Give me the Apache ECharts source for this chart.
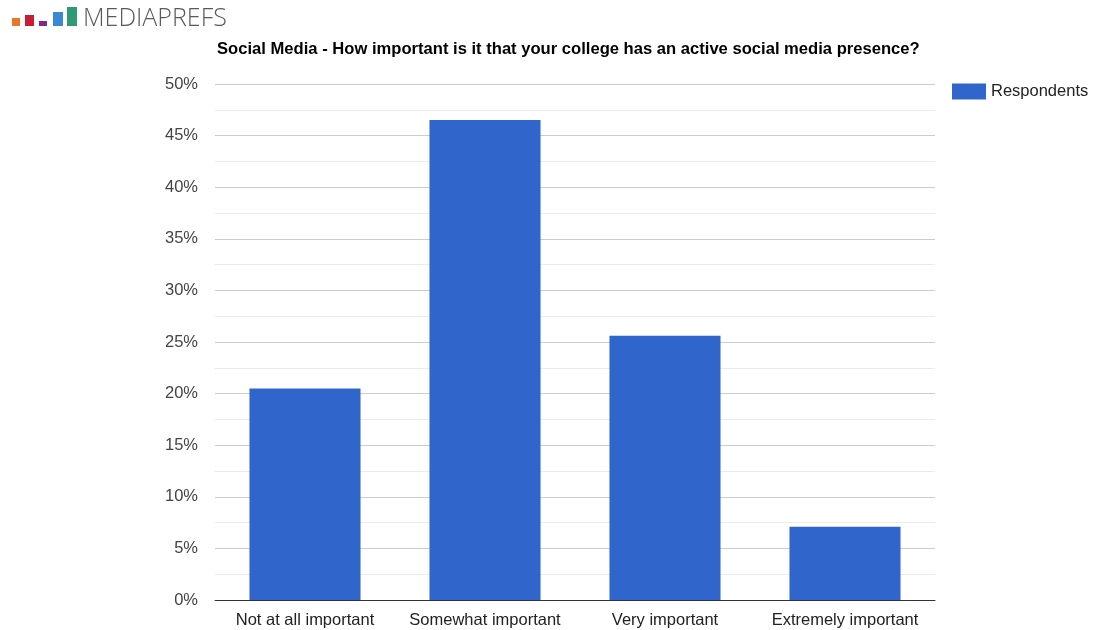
<!DOCTYPE html>
<html>
<head>
<meta charset="utf-8">
<style>
  html, body { margin: 0; padding: 0; background: #fff; }
  #chart { width: 1093px; height: 630px; }
</style>
<script src="https://cdn.jsdelivr.net/npm/echarts@6/dist/echarts.min.js"></script>
</head>
<body>
<div id="chart"></div>
<script>
// Survey answers and share of respondents (%)
const categories = ['Not at all important', 'Somewhat important', 'Very important', 'Extremely important'];
const respondents = [20.5, 46.5, 25.6, 7.1];
const seriesName = 'Respondents';
const chartTitle = 'Social Media - How important is it that your college has an active social media presence?';

// Brand mark: small coloured blocks followed by the wordmark
const logoBlocks = [
  { x: 12, y: 18, w: 8, h: 8, c: '#e8762b' },
  { x: 25, y: 15, w: 9, h: 11, c: '#c81d35' },
  { x: 39, y: 21, w: 8, h: 5, c: '#7b2a8f' },
  { x: 53, y: 12, w: 10, h: 14, c: '#3a87d4' },
  { x: 67, y: 7, w: 10, h: 19, c: '#2f9a74' }
];

const FONT = 'Arial, "Liberation Sans", sans-serif';
const chart = echarts.init(document.getElementById('chart'), null, { renderer: 'canvas' });

const graphic = logoBlocks.map(b => ({
  type: 'rect',
  shape: { x: b.x, y: b.y, width: b.w, height: b.h },
  style: { fill: b.c }
}));
graphic.push({
  type: 'text',
  left: 83,
  top: 6,
  style: {
    text: 'MEDIAPREFS',
    fill: '#5a5a5a',
    font: '300 25px "Open Sans", Arial, sans-serif'
  }
});

chart.setOption({
  animation: false,
  textStyle: { fontFamily: FONT },
  title: {
    text: chartTitle,
    left: 212,
    top: 36,
    textStyle: { fontSize: 16.6, fontWeight: 'bold', color: '#000', fontFamily: FONT }
  },
  graphic: graphic,
  legend: {
    data: [seriesName],
    left: 952,
    top: 83,
    padding: 0,
    icon: 'rect',
    itemWidth: 34,
    itemHeight: 16,
    itemGap: 6,
    textStyle: { fontSize: 16.5, color: '#222', fontFamily: FONT }
  },
  grid: { left: 215, right: 158, top: 84, bottom: 30, containLabel: false },
  xAxis: {
    type: 'category',
    data: categories,
    axisTick: { show: false },
    axisLine: { lineStyle: { color: '#333', width: 1 } },
    axisLabel: { interval: 0, fontSize: 16.5, color: '#222', margin: 12, fontFamily: FONT }
  },
  yAxis: {
    type: 'value',
    min: 0,
    max: 50,
    interval: 5,
    axisLabel: { formatter: '{value}%', fontSize: 16.5, color: '#444', margin: 17, fontFamily: FONT },
    axisLine: { show: false },
    axisTick: { show: false },
    splitLine: { lineStyle: { color: '#cccccc' } },
    minorTick: { show: false, splitNumber: 2 },
    minorSplitLine: { show: true, lineStyle: { color: '#ebebeb' } }
  },
  series: [{
    name: seriesName,
    type: 'bar',
    data: respondents,
    barWidth: '61.7%',
    itemStyle: { color: '#3066cc' }
  }]
});
</script>
</body>
</html>
